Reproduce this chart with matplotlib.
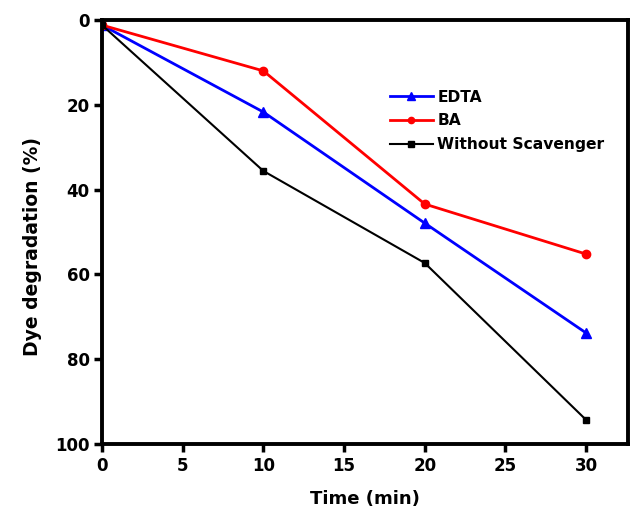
import numpy as np
import matplotlib
matplotlib.use("Agg")
import matplotlib.pyplot as plt

# data
time_min = [0, 10, 20, 30]
edta = [1.2, 21.7, 47.9, 73.8]
ba = [1.2, 12.0, 43.4, 55.2]
without = [1.2, 35.6, 57.3, 94.3]

x_ticks = [0, 5, 10, 15, 20, 25, 30]
y_ticks = [0, 20, 40, 60, 80, 100]

plt.rcParams['font.family'] = ['DejaVu Sans']
plt.rcParams['font.weight'] = 'bold'

fig = plt.figure(figsize=(6.32, 5.16), dpi=100)
ax = fig.add_axes([0.1614, 0.1395, 0.8323, 0.8217])

ax.plot(time_min, edta, color='blue', lw=2, marker='^', ms=7, label='EDTA')
ax.plot(time_min, ba, color='red', lw=2, marker='o', ms=6, label='BA')
ax.plot(time_min, without, color='black', lw=1.5, marker='s', ms=5,
        label='Without Scavenger')

ax.set_xlim(0, 32.6)
ax.set_ylim(100, 0)
ax.set_xticks(x_ticks)
ax.set_yticks(y_ticks)

for s in ax.spines.values():
    s.set_linewidth(2.8)
ax.tick_params(direction='out', length=6, width=2.5, labelsize=12, pad=3)
for lab in ax.get_xticklabels() + ax.get_yticklabels():
    lab.set_fontweight('bold')

ax.set_xlabel('Time (min)', fontsize=13, fontweight='bold', labelpad=11)
ax.set_ylabel('Dye degradation (%)', fontsize=13.5, fontweight='bold')
ax.yaxis.set_label_coords(-0.114, 0.465)

leg = ax.legend(loc='upper left', bbox_to_anchor=(0.5475, 0.836), frameon=False,
                prop={'weight': 'bold', 'size': 11.2}, handlelength=2.75,
                handletextpad=0.3, labelspacing=0.56, borderaxespad=0,
                borderpad=0, markerscale=0.75)

fig.savefig('out.png', dpi=100)
